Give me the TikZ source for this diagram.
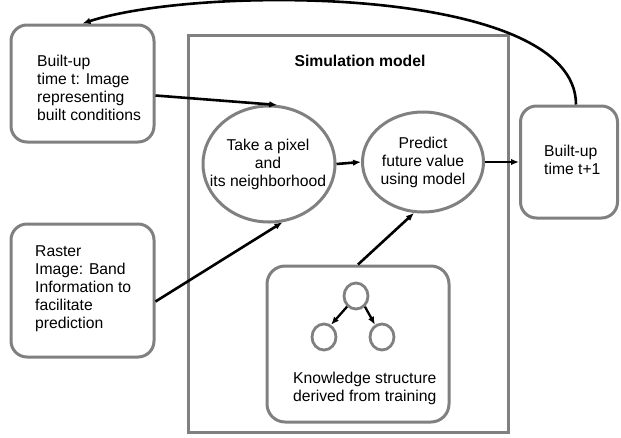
\documentclass[tikz,border=0pt]{standalone}
\usepackage{fontspec}
\setmainfont{Liberation Sans}
\usetikzlibrary{shapes.geometric,arrows.meta}
\definecolor{BoxGray}{RGB}{128,128,128}

\begin{document}
\begin{tikzpicture}[x=1pt, y=-1pt,
    sidebox/.style={rectangle, rounded corners=16pt, draw=BoxGray, line width=3pt, minimum width=143pt},
    stage/.style={ellipse, draw=BoxGray, line width=3pt, inner sep=0pt},
    leaf/.style={ellipse, draw=BoxGray, line width=2.8pt, inner sep=0pt, minimum width=24pt, minimum height=26pt},
    txt/.style={inner sep=0pt, align=left, font=\fontsize{15.7}{18}\selectfont},
    flow/.style={line width=2.6pt, -{Latex[length=8pt,width=6.5pt]}}
]
    \useasboundingbox (0,0) rectangle (621,437);

    % Inputs
    \node[sidebox, minimum height=117pt] (built) at (82.5,83.5) {};
    \node[txt, anchor=west] (builttext) at (37,88) {Built-up\\time t: Image\\representing\\built conditions};
    \node[sidebox, minimum height=133pt] (raster) at (82.5,290.5) {};
    \node[txt, anchor=west] (rastertext) at (35,289) {Raster\\Image: Band\\Information to\\facilitate\\prediction};

    % Simulation model
    \node[draw=BoxGray, line width=3pt, minimum width=320pt, minimum height=397pt, inner sep=0pt] (sim) at (348,233.5) {};
    \node[txt, font=\fontsize{15.7}{18}\selectfont\bfseries] (simtitle) at (360,61) {Simulation model};
    \node[stage, minimum width=132pt, minimum height=116pt] (take) at (269,164) {};
    \node[txt, align=center] (taketext) at (268,164) {Take a pixel\\and\\its neighborhood};
    \node[stage, minimum width=121pt, minimum height=100pt] (pred) at (423,162) {};
    \node[txt, align=center] (predtext) at (423,162) {Predict\\future value\\using model};
    \node[sidebox, rounded corners=18pt, minimum width=182pt, minimum height=156pt] (know) at (358,344) {};
    \node[leaf] (root) at (356,296) {};
    \node[leaf] (lleaf) at (324,337) {};
    \node[leaf] (rleaf) at (382,337) {};
    \node[txt, anchor=west] (knowtext) at (293,388) {Knowledge structure\\derived from training};

    % Output
    \node[sidebox, minimum width=97pt, minimum height=112pt] (next) at (569,162) {};
    \node[txt, anchor=west] (nexttext) at (544,160) {Built-up\\time t+1};

    % Connectors
    \draw[flow] ([yshift=-12pt]built.east) -- (take.82);
    \draw[flow] ([yshift=-11pt]raster.east) -- (take.-77);
    \draw[flow] (take.east) -- (pred.west);
    \draw[flow] (pred.east) -- (next.west);
    \draw[flow] (know.north) -- (pred.-100);
    \draw[flow, line width=2.3pt] (root.-130) -- (lleaf.60);
    \draw[flow, line width=2.3pt] (root.-50) -- (rleaf.120);
    \draw[flow] ([xshift=7pt]next.north) .. controls (576,-15) and (200,-15) .. (built.north);
\end{tikzpicture}
\end{document}
